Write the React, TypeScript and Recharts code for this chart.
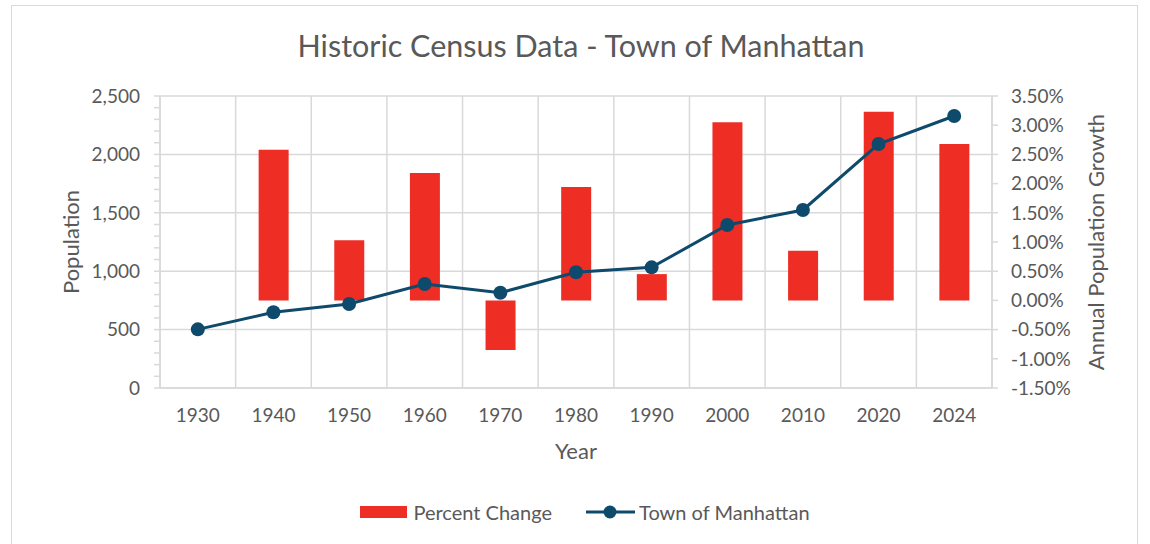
import React from "react";
import { ComposedChart, Bar, Line, XAxis, YAxis, CartesianGrid, Legend } from "recharts";

const years = ["1930", "1940", "1950", "1960", "1970", "1980", "1990", "2000", "2010", "2020", "2024"];
const population = [502, 648, 719, 890, 816, 991, 1033, 1396, 1524, 2089, 2329];
const percentChange = [null, 2.58, 1.03, 2.18, -0.85, 1.94, 0.45, 3.05, 0.85, 3.23, 2.68];
const popTicks = Array.from({ length: 26 }, (_, i) => i * 100);
const pctTicks = [-1.5, -1, -0.5, 0, 0.5, 1, 1.5, 2, 2.5, 3, 3.5];
const gridValues = [0, 500, 1000, 1500, 2000, 2500];

const data = years.map((year, i) => ({
  year,
  population: population[i],
  pct: percentChange[i],
}));

const FONT = "Lato, 'Noto Sans', sans-serif";
const TEXT = "#595959";
const GRID = "#D9D9D9";
const RED = "#EE2D24";
const NAVY = "#0E4A6C";
const TICK_SIZE = 19;
const LABEL_SIZE = 22;

const PopTick = (props: any) => {
  const { x, y, payload } = props;
  if (payload.value % 500 !== 0) return null;
  return (
    <text x={x} y={y} dy="0.36em" textAnchor="end" fill={TEXT} fontSize={TICK_SIZE} fontFamily={FONT}>
      {payload.value.toLocaleString("en-US")}
    </text>
  );
};

const LegendContent = () => (
  <div
    style={{
      height: 36,
      display: "flex",
      alignItems: "center",
      justifyContent: "center",
      fontFamily: FONT,
      fontSize: 20,
      color: TEXT,
      paddingLeft: 20,
    }}
  >
    <span style={{ display: "inline-block", width: 47, height: 12, background: RED, marginRight: 6 }} />
    <span style={{ marginRight: 34 }}>Percent Change</span>
    <svg width={49} height={14} style={{ marginRight: 4 }}>
      <line x1={0} y1={7} x2={49} y2={7} stroke={NAVY} strokeWidth={3} />
      <circle cx={24} cy={7} r={6.5} fill={NAVY} />
    </svg>
    <span>Town of Manhattan</span>
  </div>
);

const rotatedLabel = (text: string, dx: number) => ({ viewBox }: any) => {
  const cx = viewBox.x + dx;
  const cy = viewBox.y + viewBox.height / 2;
  return (
    <text
      x={cx}
      y={cy}
      transform={`rotate(-90, ${cx}, ${cy})`}
      textAnchor="middle"
      dominantBaseline="central"
      fill={TEXT}
      fontSize={LABEL_SIZE}
      fontFamily={FONT}
    >
      {text}
    </text>
  );
};

export default function App() {
  return (
    <div style={{ position: "absolute", left: 0, top: 0, width: 1150, height: 544, overflow: "hidden", background: "#fff" }}>
      <div
        style={{
          position: "absolute",
          left: 11,
          top: 5,
          width: 1127,
          height: 600,
          border: `1px solid ${GRID}`,
          boxSizing: "border-box",
        }}
      />
      <div
        style={{
          position: "absolute",
          left: 11,
          width: 1140,
          top: 26,
          textAlign: "center",
          fontFamily: FONT,
          fontSize: 30.5,
          color: TEXT,
          lineHeight: "38px",
        }}
      >
        Historic Census Data - Town of Manhattan
      </div>
      <ComposedChart
        width={1150}
        height={544}
        data={data}
        margin={{ top: 96, right: 0, left: 0, bottom: 14 }}
        style={{ position: "absolute", left: 0, top: 0 }}
      >
        <CartesianGrid
          yAxisId="pop"
          stroke={GRID}
          strokeWidth={1.5}
          horizontalValues={gridValues}
          verticalCoordinatesGenerator={({ offset }: any) =>
            Array.from({ length: years.length + 1 }, (_, i) => offset.left + (offset.width * i) / years.length)
          }
        />
        <XAxis
          dataKey="year"
          height={106}
          tickLine={false}
          axisLine={{ stroke: GRID, strokeWidth: 1.5 }}
          tickSize={0}
          tickMargin={21}
          tick={{ fill: TEXT, fontSize: TICK_SIZE, fontFamily: FONT }}
          label={{
            content: ({ viewBox }: any) => (
              <text
                x={viewBox.x + viewBox.width / 2}
                y={viewBox.y + 62}
                textAnchor="middle"
                dominantBaseline="central"
                fill={TEXT}
                fontSize={LABEL_SIZE}
                fontFamily={FONT}
              >
                Year
              </text>
            ),
          }}
        />
        <YAxis
          yAxisId="pop"
          orientation="left"
          width={160}
          domain={[0, 2500]}
          ticks={popTicks}
          interval={0}
          tickSize={6}
          tickMargin={14}
          tickLine={{ stroke: GRID, strokeWidth: 1.5 }}
          axisLine={{ stroke: GRID, strokeWidth: 1.5 }}
          tick={<PopTick />}
          label={{ content: rotatedLabel("Population", 70) }}
        />
        <YAxis
          yAxisId="pct"
          orientation="right"
          width={158}
          domain={[-1.5, 3.5]}
          ticks={pctTicks}
          interval={0}
          tickSize={6}
          tickMargin={13}
          tickLine={{ stroke: GRID, strokeWidth: 1.5 }}
          axisLine={{ stroke: GRID, strokeWidth: 1.5 }}
          tickFormatter={(v: number) => `${v.toFixed(2)}%`}
          tick={{ fill: TEXT, fontSize: TICK_SIZE, fontFamily: FONT }}
          label={{ content: rotatedLabel("Annual Population Growth", 103) }}
        />
        <Legend verticalAlign="bottom" content={<LegendContent />} />
        <Bar yAxisId="pct" dataKey="pct" name="Percent Change" fill={RED} barSize={30} isAnimationActive={false} />
        <Line
          yAxisId="pop"
          type="linear"
          dataKey="population"
          name="Town of Manhattan"
          stroke={NAVY}
          strokeWidth={3}
          dot={{ r: 7, fill: NAVY, stroke: NAVY, strokeWidth: 0 }}
          activeDot={false}
          isAnimationActive={false}
        />
      </ComposedChart>
    </div>
  );
}
